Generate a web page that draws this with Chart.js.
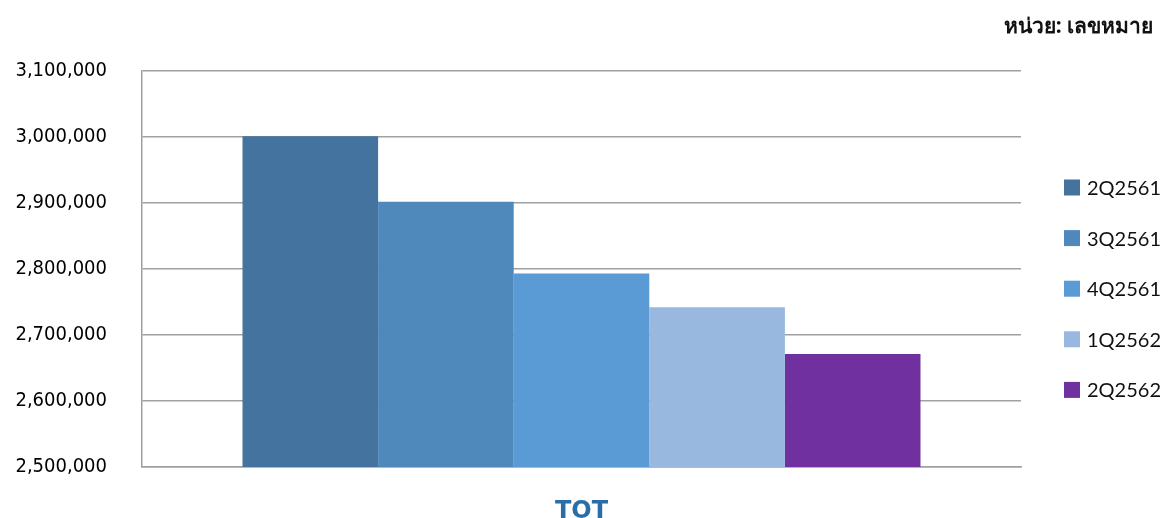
<!DOCTYPE html>
<html>
<head>
<meta charset="utf-8">
<script src="https://cdn.jsdelivr.net/npm/chart.js@4/dist/chart.umd.min.js"></script>
<style>
  html, body { margin: 0; padding: 0; background: #ffffff; }
  #wrap { width: 1166px; height: 518px; }
</style>
</head>
<body>
<div id="wrap"><canvas id="c" width="1166" height="518"></canvas></div>
<script>
const categories = ['TOT'];
const seriesLabels = ['2Q2561', '3Q2561', '4Q2561', '1Q2562', '2Q2562'];
const seriesValues = [3000600, 2901500, 2792900, 2741800, 2670900];
const seriesColors = ['#43739e', '#4f89bb', '#5b9bd5', '#98b8df', '#7030a0'];
const yTicks = { min: 2500000, max: 3100000, step: 100000 };
const unitTitle = 'หน่วย: เลขหมาย';

const datasets = seriesLabels.map((lab, i) => ({
  label: lab,
  data: [seriesValues[i]],
  backgroundColor: seriesColors[i],
  borderWidth: 0,
  barPercentage: 1.0,
  categoryPercentage: 0.7713
}));

const customLegendTitle = {
  id: 'customLegendTitle',
  afterDraw(chart) {
    const ctx = chart.ctx;
    ctx.save();
    // unit title
    ctx.font = "bold 21px 'Noto Sans', 'DejaVu Sans', sans-serif";
    ctx.fillStyle = '#111111';
    ctx.textAlign = 'right';
    ctx.textBaseline = 'middle';
    ctx.fillText(unitTitle, 1153, 27);
    // legend
    ctx.font = "20px Lato, 'Liberation Sans', sans-serif";
    ctx.textAlign = 'left';
    chart.data.datasets.forEach((ds, i) => {
      const cy = 187.5 + i * 50.6;
      ctx.fillStyle = ds.backgroundColor;
      ctx.fillRect(1064, cy - 8, 16, 16);
      ctx.fillStyle = '#111111';
      ctx.fillText(ds.label, 1087, cy + 1);
    });
    ctx.restore();
  }
};

new Chart(document.getElementById('c'), {
  type: 'bar',
  data: { labels: categories, datasets: datasets },
  options: {
    responsive: false,
    animation: false,
    layout: { padding: { top: 70.5, right: 145, left: 0, bottom: 0 } },
    plugins: {
      legend: { display: false },
      title: { display: false },
      tooltip: { enabled: false }
    },
    scales: {
      x: {
        grid: { display: false, drawTicks: false },
        border: { display: true, color: '#a0a0a0', width: 1.5 },
        ticks: {
          padding: 30,
          color: '#2a6ea8',
          font: { family: "'DejaVu Sans', sans-serif", size: 24, weight: 'bold' }
        },
        afterFit(scale) { scale.height = 51; }
      },
      y: {
        min: yTicks.min,
        max: yTicks.max,
        ticks: {
          stepSize: yTicks.step,
          padding: 35,
          color: '#000000',
          font: { family: "'DejaVu Sans Condensed', 'DejaVu Sans', sans-serif", size: 20 },
          callback: (v) => Number(v).toLocaleString('en-US')
        },
        grid: { color: '#a0a0a0', lineWidth: 1.5, drawTicks: false },
        border: { display: true, color: '#a0a0a0', width: 1.5 },
        afterFit(scale) { scale.width = 142; }
      }
    }
  },
  plugins: [customLegendTitle]
});
</script>
</body>
</html>
